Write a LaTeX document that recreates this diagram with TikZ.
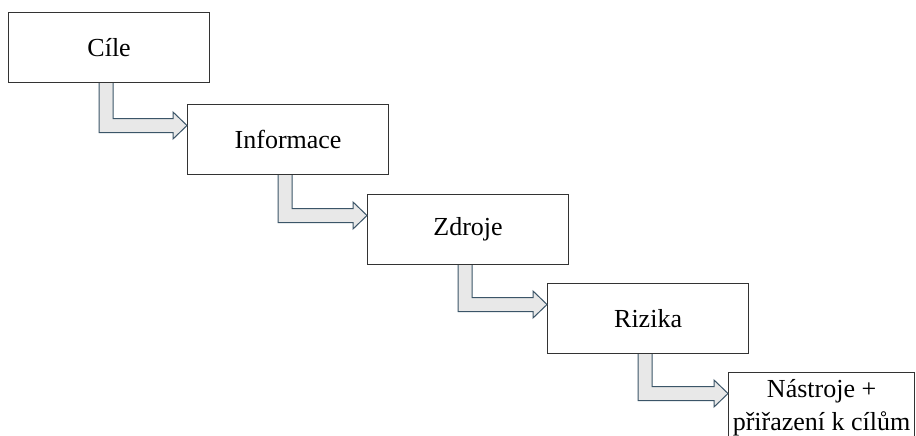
\documentclass[tikz,border=0pt]{standalone}
\usepackage{fontspec}
\setmainfont{Liberation Serif}
\usetikzlibrary{calc}
\definecolor{boxline}{HTML}{333333}
\definecolor{arrline}{HTML}{3B5568}
\definecolor{arrfill}{HTML}{E8E8E8}
\tikzset{
  stepbox/.style={draw=boxline, line width=1.2pt, fill=white,
    minimum width=201pt, minimum height=70pt, anchor=north west,
    inner sep=0pt, align=center, font=\fontsize{26}{33}\selectfont},
  bentarrow/.style={draw=arrline, fill=arrfill, line width=1pt, line join=miter},
}
% bent block arrow from the bottom of box #1 to the left side of box #2
\newcommand\steparrow[2]{%
  \filldraw[bentarrow] let \p1=(#1.south west), \p2=(#2.north west) in
    (\x1+105pt,\y1) -- (\x1+105pt,\y2-14.5pt) -- (\x2-14pt,\y2-14.5pt)
    -- (\x2-14pt,\y2-8pt) -- (\x2,\y2-21.5pt) -- (\x2-14pt,\y2-35pt)
    -- (\x2-14pt,\y2-28.5pt) -- (\x1+91pt,\y2-28.5pt) -- (\x1+91pt,\y1);
}
\begin{document}
\begin{tikzpicture}[x=1pt,y=-1pt]
  \useasboundingbox (0,0) rectangle (916,436);
  \clip (0,0) rectangle (916,436);
  \node[stepbox] (b1) at (8,12)   {Cíle};
  \node[stepbox] (b2) at (187,104) {Informace};
  \node[stepbox] (b3) at (367,194) {Zdroje};
  \node[stepbox] (b4) at (547,283) {Rizika};
  \node[stepbox, minimum width=186pt] (b5) at (728,372) {Nástroje +\\přiřazení k cílům};
  \steparrow{b1}{b2}
  \steparrow{b2}{b3}
  \steparrow{b3}{b4}
  \steparrow{b4}{b5}
\end{tikzpicture}
\end{document}
